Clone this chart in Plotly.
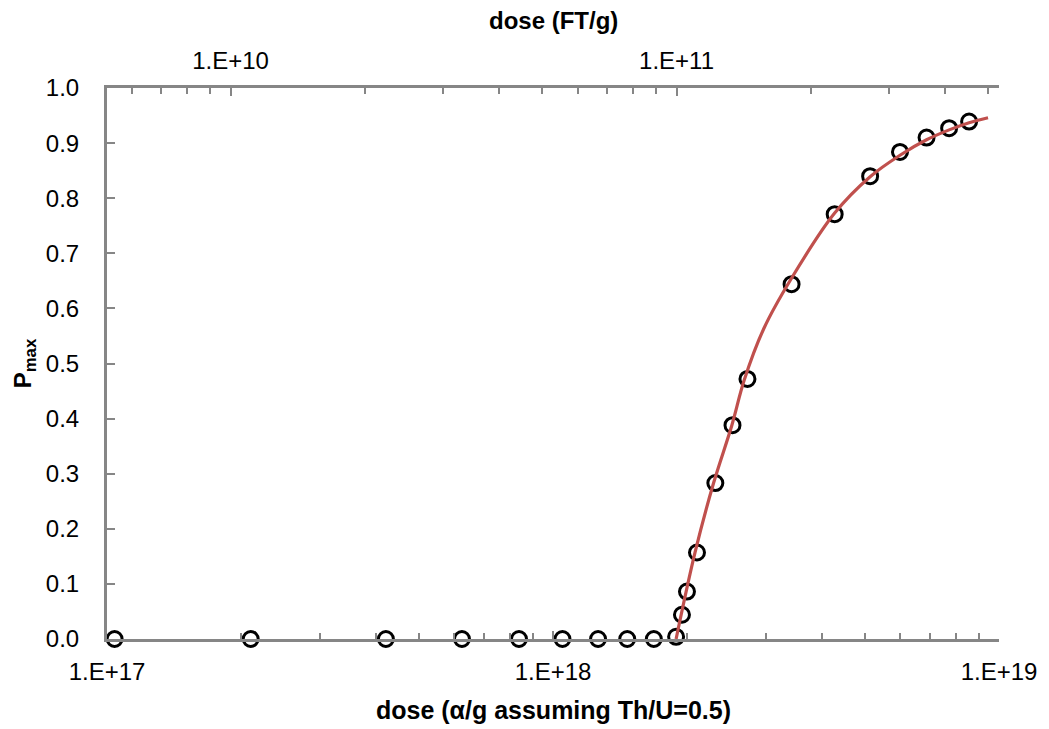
import plotly.graph_objects as go

# measured points: dose (alpha/g) and Pmax
dose_alpha = [1.04e17, 2.10e17, 4.22e17, 6.25e17, 8.39e17, 1.05e18, 1.262e18, 1.467e18,
              1.683e18, 1.888e18, 1.946e18, 1.997e18, 2.103e18, 2.312e18, 2.526e18,
              2.729e18, 3.427e18, 4.281e18, 5.141e18, 5.998e18, 6.88e18, 7.73e18, 8.57e18]
p_max = [0, 0, 0, 0, 0, 0, 0, 0, 0, 0.004, 0.044, 0.086, 0.157, 0.283, 0.388,
         0.472, 0.644, 0.771, 0.840, 0.884, 0.910, 0.927, 0.939]

# fitted curve
fit_dose = [1.888e18, 2.082e18, 2.291e18, 2.518e18, 2.684e18, 2.972e18, 3.410e18,
            4.281e18, 5.141e18, 5.998e18, 6.88e18, 7.73e18, 8.57e18, 9.45e18]
fit_p = [0.0, 0.157, 0.283, 0.388, 0.470, 0.564, 0.652, 0.773, 0.839, 0.878,
         0.906, 0.924, 0.937, 0.946]

# axes
x_range_log = [17, 19]
top_range_log = [9.723, 11.723]   # dose (FT/g) on the secondary axis
x_tickvals = [1e17, 1e18, 1e19]
x_ticktext = ["1.E+17", "1.E+18", "1.E+19"]
x_minor = [2e17, 3e17, 4e17, 5e17, 6e17, 7e17, 8e17, 9e17,
           2e18, 3e18, 4e18, 5e18, 6e18, 7e18, 8e18, 9e18]
top_tickvals = [1e10, 1e11]
top_ticktext = ["1.E+10", "1.E+11"]
top_minor = [6e9, 7e9, 8e9, 9e9, 2e10, 3e10, 4e10, 5e10, 6e10, 7e10, 8e10, 9e10,
             2e11, 3e11, 4e11, 5e11]
y_tickvals = [0.0, 0.1, 0.2, 0.3, 0.4, 0.5, 0.6, 0.7, 0.8, 0.9, 1.0]

AX = "#868686"
FONT = "Liberation Sans, Arial, sans-serif"
FS = 24

fig = go.Figure()
fig.add_trace(go.Scatter(
    x=dose_alpha, y=p_max, mode="markers", cliponaxis=False,
    marker=dict(symbol="circle-open", size=15, color="black", line=dict(width=3, color="black")),
    showlegend=False))
fig.add_trace(go.Scatter(
    x=fit_dose, y=fit_p, mode="lines", line=dict(color="#C0504D", width=3.2, shape="spline"),
    cliponaxis=False, showlegend=False))
fig.add_trace(go.Scatter(x=[], y=[], xaxis="x2", yaxis="y", showlegend=False))

fig.update_layout(
    width=1049, height=729,
    margin=dict(l=107, r=46, t=88, b=90),
    paper_bgcolor="white", plot_bgcolor="white",
    font=dict(family=FONT, size=FS, color="black"),
    xaxis=dict(
        type="log", range=x_range_log, showgrid=False, zeroline=False,
        showline=True, linecolor=AX, linewidth=3,
        tickmode="array", tickvals=x_tickvals, ticktext=x_ticktext,
        ticks="inside", ticklen=8, tickwidth=2, tickcolor=AX,
        ticklabelstandoff=9,
        minor=dict(tickmode="array", tickvals=x_minor, ticks="inside", ticklen=6,
                   tickwidth=2, tickcolor=AX, showgrid=False),
        tickfont=dict(size=FS, family=FONT, color="black"),
    ),
    xaxis2=dict(
        type="log", range=top_range_log, overlaying="x", side="top", anchor="y",
        showgrid=False, zeroline=False, showline=True, linecolor=AX, linewidth=3,
        tickmode="array", tickvals=top_tickvals, ticktext=top_ticktext,
        ticks="inside", ticklen=8, tickwidth=2, tickcolor=AX,
        ticklabelstandoff=6,
        minor=dict(tickmode="array", tickvals=top_minor, ticks="inside", ticklen=6,
                   tickwidth=2, tickcolor=AX, showgrid=False),
        tickfont=dict(size=FS, family=FONT, color="black"),
    ),
    yaxis=dict(
        range=[0, 1], showgrid=False, zeroline=False, showline=True, linecolor=AX,
        linewidth=3, tickmode="array", tickvals=y_tickvals, tickformat=".1f",
        ticks="inside", ticklen=8, tickwidth=2, tickcolor=AX,
        ticklabelstandoff=20,
        tickfont=dict(size=FS, family=FONT, color="black"),
        title=dict(text="<b>P<sub>max</sub></b>", standoff=8,
                   font=dict(size=FS, family=FONT, color="black")),
    ),
    annotations=[
        dict(text="<b>dose (α/g assuming Th/U=0.5)</b>", xref="paper", yref="paper",
             x=0.5, y=0, yshift=-71, xanchor="center", yanchor="middle",
             showarrow=False, font=dict(size=25, family=FONT)),
        dict(text="<b>dose (FT/g)</b>", xref="paper", yref="paper",
             x=0.5, y=1, yshift=68, xanchor="center", yanchor="middle",
             showarrow=False, font=dict(size=24, family=FONT)),
    ],
)

fig.write_html("out.html")
